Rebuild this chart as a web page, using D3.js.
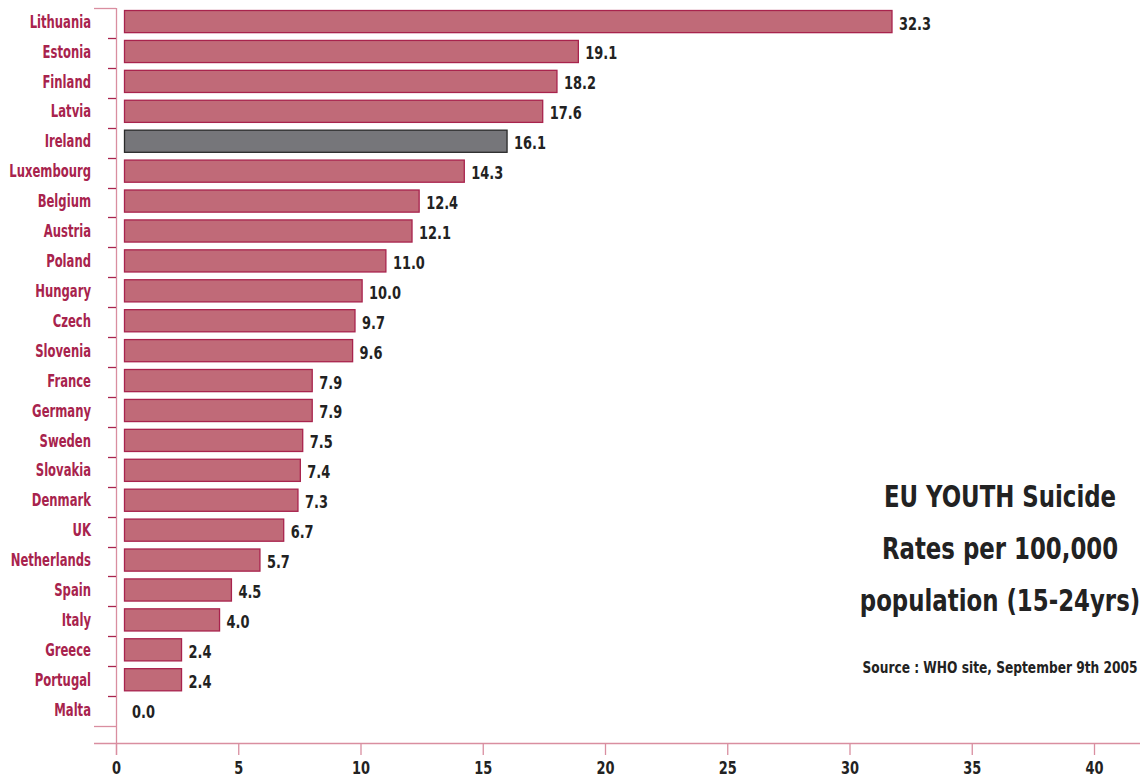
<!DOCTYPE html>
<html>
<head>
<meta charset="utf-8">
<script src="https://cdn.jsdelivr.net/npm/d3@7"></script>
<style>
    body { margin: 0; background: #fff; }
    text { font-family: 'DejaVu Sans Condensed', 'Liberation Sans Narrow', sans-serif; font-weight: bold; }
</style>
</head>
<body>
<script>
var countries = ['Lithuania', 'Estonia', 'Finland', 'Latvia', 'Ireland', 'Luxembourg', 'Belgium',
    'Austria', 'Poland', 'Hungary', 'Czech', 'Slovenia', 'France', 'Germany', 'Sweden', 'Slovakia',
    'Denmark', 'UK', 'Netherlands', 'Spain', 'Italy', 'Greece', 'Portugal', 'Malta'];
var rates = [32.3, 19.1, 18.2, 17.6, 16.1, 14.3, 12.4, 12.1, 11.0, 10.0, 9.7, 9.6, 7.9, 7.9,
    7.5, 7.4, 7.3, 6.7, 5.7, 4.5, 4.0, 2.4, 2.4, 0.0];
var highlight = 'Ireland';
var x_ticks = [0, 5, 10, 15, 20, 25, 30, 35, 40];
var title_lines = ['EU YOUTH Suicide', 'Rates per 100,000', 'population (15-24yrs)'];
var source = 'Source : WHO site, September 9th 2005';

var width = 1147;
var height = 778;
var pink = '#a8234d';
var axis_pink = '#d98ea0';

var data = countries.map(function (c, i) {
    return {'country': c, 'rate': rates[i]};
});

var svg = d3.select('body')
    .append('svg')
    .attr('width', width)
    .attr('height', height);

// narrow bold look: squeeze text horizontally
function squeeze(sel, fx, fy, sx) {
    sel.attr('transform', function (d, i) {
        return 'translate(' + fx(d, i) + ',' + fy(d, i) + ') scale(' + sx + ',1)';
    });
}

// bars use their own scale, the printed axis is spaced a bit wider
var x_bar = d3.scaleLinear().domain([0, 32.3]).range([124.5, 892]);
var x_axis_scale = d3.scaleLinear().domain([0, 40]).range([116, 1094]);
var y = d3.scaleBand().domain(countries).range([8, 726]);
var bar_h = y.bandwidth() * 0.74;

// left axis line and separators
svg.append('line')
    .attr('x1', 116.5).attr('x2', 116.5)
    .attr('y1', 8).attr('y2', 755)
    .attr('stroke', axis_pink).attr('stroke-width', 1.3);

var seps = countries.map(function (c) { return y(c); }).concat([y.range()[1]]);
svg.selectAll('.sep')
    .data(seps)
    .enter()
    .append('line')
    .attr('class', 'sep')
    .attr('x1', function (d, i) { return (i === 0 || i === seps.length - 1) ? 94 : 108; })
    .attr('x2', 116)
    .attr('y1', function (d) { return Math.round(d) + 0.5; })
    .attr('y2', function (d) { return Math.round(d) + 0.5; })
    .attr('stroke', function (d, i) { return (i === 0 || i === seps.length - 1) ? axis_pink : pink; })
    .attr('stroke-width', 1.3);

// bars
svg.selectAll('rect.bar')
    .data(data.filter(function (d) { return d.rate > 0; }))
    .enter()
    .append('rect')
    .attr('class', 'bar')
    .attr('x', x_bar(0))
    .attr('y', function (d) { return y(d.country) + 2.5; })
    .attr('width', function (d) { return x_bar(d.rate) - x_bar(0); })
    .attr('height', bar_h)
    .attr('fill', function (d) { return d.country === highlight ? '#76767a' : '#c06a78'; })
    .attr('stroke', function (d) { return d.country === highlight ? '#2a2a2a' : pink; })
    .attr('stroke-width', 1.3);

// country labels
svg.selectAll('text.country')
    .data(data)
    .enter()
    .append('text')
    .attr('class', 'country')
    .attr('dy', '0.36em')
    .attr('text-anchor', 'end')
    .attr('fill', pink)
    .style('font-size', '17px')
    .text(function (d) { return d.country; })
    .call(squeeze, function () { return 91; },
        function (d) { return y(d.country) + 2.5 + bar_h / 2; }, 0.76);

// value labels
svg.selectAll('text.value')
    .data(data)
    .enter()
    .append('text')
    .attr('class', 'value')
    .attr('dy', '0.36em')
    .attr('fill', '#222')
    .style('font-size', '18px')
    .text(function (d) { return d.rate.toFixed(1); })
    .call(squeeze, function (d) { return d.rate > 0 ? x_bar(d.rate) + 7 : 132; },
        function (d) { return y(d.country) + 4 + bar_h / 2; }, 0.8);

// bottom axis
svg.append('line')
    .attr('x1', 94).attr('x2', 1140)
    .attr('y1', 743.5).attr('y2', 743.5)
    .attr('stroke', axis_pink).attr('stroke-width', 1.3);

var x_axis = d3.axisBottom(x_axis_scale)
    .tickValues(x_ticks)
    .tickSize(12)
    .tickPadding(6)
    .tickFormat(d3.format('d'));

var gx = svg.append('g')
    .attr('class', 'x axis')
    .attr('transform', 'translate(0,743)')
    .call(x_axis);
gx.select('.domain').remove();
gx.selectAll('.tick line').attr('stroke', axis_pink).attr('stroke-width', 1.3);
gx.selectAll('.tick text')
    .attr('fill', '#222')
    .attr('y', 0)
    .attr('dy', 0)
    .attr('transform', 'translate(0,31) scale(0.8,1)')
    .style('font-size', '18px');

// title block
svg.selectAll('text.title')
    .data(title_lines)
    .enter()
    .append('text')
    .attr('class', 'title')
    .attr('text-anchor', 'middle')
    .attr('fill', '#222')
    .style('font-size', '31px')
    .text(function (d) { return d; })
    .call(squeeze, function () { return 1000; },
        function (d, i) { return 507 + i * 52; }, 0.82);

svg.append('text')
    .attr('text-anchor', 'middle')
    .attr('fill', '#222')
    .style('font-size', '16px')
    .text(source)
    .call(squeeze, function () { return 1000; }, function () { return 673; }, 0.85);
</script>
</body>
</html>
